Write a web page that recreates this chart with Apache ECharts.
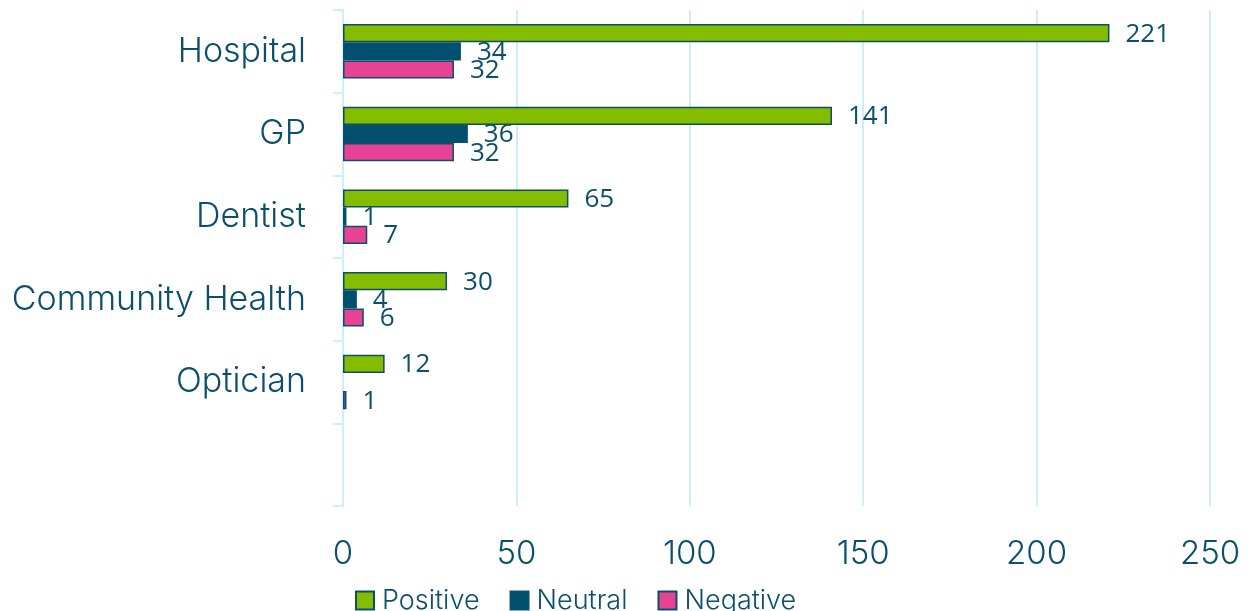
<!DOCTYPE html>
<html>
<head>
<meta charset="utf-8">
<script src="https://cdn.jsdelivr.net/npm/echarts@6/dist/echarts.min.js"></script>
<style>
html,body{margin:0;padding:0;background:#fff;}
#chart{width:1252px;height:611px;}
</style>
</head>
<body>
<div id="chart"></div>
<script>
const categories = ['Hospital', 'GP', 'Dentist', 'Community Health', 'Optician', ''];
const positive = [221, 141, 65, 30, 12, null];
const neutral = [34, 36, 1, 4, null, null];
const negative = [32, 32, 7, 6, 1, null];
const xTicks = [0, 50, 100, 150, 200, 250];

const textColor = '#0b4f6c';
const borderColor = '#0b4f6c';
const gridColor = '#cdeefc';

const chart = echarts.init(document.getElementById('chart'));

function mkSeries(name, data, color) {
  return {
    name: name,
    type: 'bar',
    data: data,
    barGap: '0%',
    barCategoryGap: '34%',
    itemStyle: { color: color, borderColor: borderColor, borderWidth: 1.5 },
    label: {
      show: true,
      position: 'right',
      distance: 16,
      offset: [0, 1],
      color: textColor,
      fontFamily: 'Open Sans',
      fontSize: 26,
      fontWeight: 500
    }
  };
}

chart.setOption({
  animation: false,
  grid: { left: 343, right: 42, top: 10, bottom: 105, containLabel: false },
  legend: {
    left: 350,
    top: 582,
    icon: 'rect',
    itemWidth: 18,
    itemHeight: 18,
    itemGap: 30,
    textStyle: { color: textColor, fontFamily: 'Inter', fontWeight: 300, fontSize: 27, padding: [0, 0, 0, 3] },
    data: ['Positive', 'Neutral', 'Negative']
  },
  xAxis: {
    type: 'value',
    min: xTicks[0],
    max: xTicks[xTicks.length - 1],
    interval: 50,
    axisLine: { show: false },
    axisTick: { show: false },
    splitLine: { show: true, lineStyle: { color: gridColor, width: 2 } },
    axisLabel: { color: textColor, fontFamily: 'Inter', fontWeight: 300, fontSize: 33, margin: 32 }
  },
  yAxis: {
    type: 'category',
    inverse: true,
    data: categories,
    axisLine: { show: true, lineStyle: { color: gridColor, width: 2 } },
    axisTick: { show: true, length: 10, lineStyle: { color: gridColor, width: 2 } },
    axisLabel: { color: textColor, fontFamily: 'Inter', fontWeight: 300, fontSize: 34, margin: 37 }
  },
  series: [
    mkSeries('Positive', positive, '#84bd00'),
    mkSeries('Neutral', neutral, '#004f6e'),
    mkSeries('Negative', negative, '#e64395')
  ]
});
</script>
</body>
</html>
